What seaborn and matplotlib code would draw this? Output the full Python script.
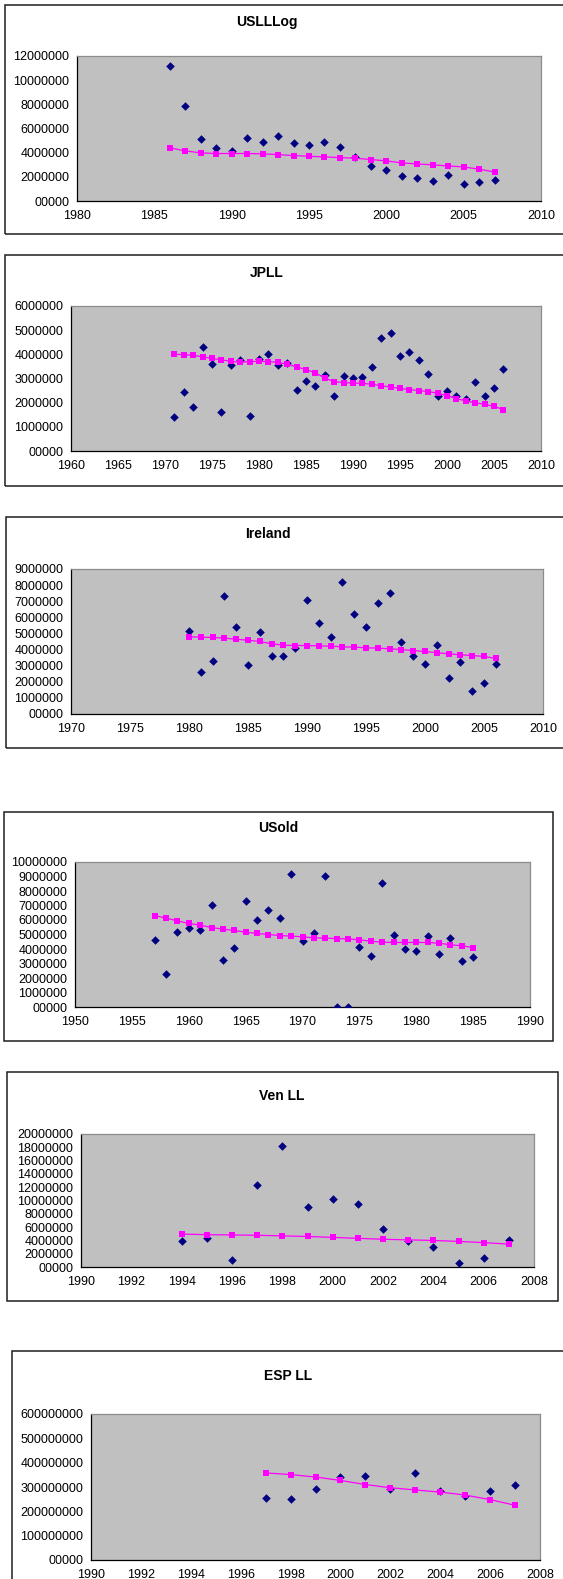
import matplotlib
matplotlib.use("Agg")
import matplotlib.pyplot as plt
from matplotlib.patches import Rectangle
from matplotlib.ticker import FuncFormatter, MultipleLocator
import seaborn as sns

sns.set_style("white")
plt.rcParams["font.family"] = ["Liberation Sans", "DejaVu Sans"]

# ---------------------------------------------------------------- data
titles = ["USLLLog", "JPLL", "Ireland", "USold", "Ven LL", "ESP LL"]

usll_years = list(range(1986, 2008))
usll_obs = [11.2e6, 7.9e6, 5.09e6, 4.4e6, 4.15e6, 5.25e6, 4.9e6, 5.34e6, 4.76e6, 4.64e6,
            4.92e6, 4.5e6, 3.66e6, 2.88e6, 2.57e6, 2.05e6, 1.88e6, 1.69e6, 2.16e6, 1.38e6,
            1.6e6, 1.74e6]
usll_fit = [4.4e6, 4.15e6, 3.98e6, 3.93e6, 3.93e6, 3.93e6, 3.9e6, 3.84e6, 3.76e6, 3.7e6,
            3.65e6, 3.59e6, 3.54e6, 3.43e6, 3.32e6, 3.15e6, 3.07e6, 2.99e6, 2.9e6, 2.82e6,
            2.63e6, 2.4e6]

jpll_years = list(range(1971, 2007))
jpll_obs = [1.42e6, 2.44e6, 1.81e6, 4.32e6, 3.61e6, 1.61e6, 3.57e6, 3.78e6, 1.46e6, 3.79e6,
            4.01e6, 3.56e6, 3.66e6, 2.51e6, 2.9e6, 2.69e6, 3.14e6, 2.28e6, 3.12e6, 3.03e6,
            3.06e6, 3.48e6, 4.69e6, 4.88e6, 3.93e6, 4.08e6, 3.75e6, 3.17e6, 2.29e6, 2.47e6,
            2.29e6, 2.14e6, 2.84e6, 2.29e6, 2.62e6, 3.38e6]
jpll_fit = [4.0e6, 3.99e6, 3.96e6, 3.9e6, 3.83e6, 3.77e6, 3.71e6, 3.67e6, 3.7e6, 3.71e6,
            3.7e6, 3.67e6, 3.59e6, 3.48e6, 3.37e6, 3.23e6, 3.02e6, 2.87e6, 2.83e6, 2.81e6,
            2.8e6, 2.76e6, 2.7e6, 2.65e6, 2.59e6, 2.54e6, 2.5e6, 2.46e6, 2.39e6, 2.29e6,
            2.17e6, 2.07e6, 2.0e6, 1.93e6, 1.85e6, 1.71e6]

ire_years = list(range(1980, 2007))
ire_obs = [5.14e6, 2.62e6, 3.28e6, 7.31e6, 5.37e6, 3.06e6, 5.1e6, 3.63e6, 3.61e6, 4.09e6,
           7.06e6, 5.62e6, 4.81e6, 8.18e6, 6.19e6, 5.39e6, 6.87e6, 7.54e6, 4.46e6, 3.59e6,
           3.12e6, 4.27e6, 2.23e6, 3.24e6, 1.42e6, 1.9e6, 3.08e6]
ire_fit = [4.79e6, 4.77e6, 4.75e6, 4.71e6, 4.64e6, 4.58e6, 4.5e6, 4.36e6, 4.27e6, 4.25e6,
           4.25e6, 4.23e6, 4.21e6, 4.17e6, 4.15e6, 4.11e6, 4.09e6, 4.05e6, 4.0e6, 3.94e6,
           3.88e6, 3.8e6, 3.74e6, 3.67e6, 3.63e6, 3.57e6, 3.45e6]

usold_years = list(range(1957, 1986))
usold_obs = [4.61e6, 2.26e6, 5.16e6, 5.46e6, 5.3e6, 7.05e6, 3.27e6, 4.08e6, 7.28e6, 5.97e6,
             6.71e6, 6.13e6, 9.19e6, 4.54e6, 5.07e6, 9.06e6, 0.02e6, 0.02e6, 4.12e6, 3.53e6,
             8.53e6, 4.98e6, 4.01e6, 3.89e6, 4.93e6, 3.66e6, 4.75e6, 3.2e6, 3.46e6]
usold_fit = [6.31e6, 6.13e6, 5.94e6, 5.76e6, 5.65e6, 5.48e6, 5.37e6, 5.28e6, 5.16e6, 5.07e6,
             5.0e6, 4.93e6, 4.89e6, 4.84e6, 4.77e6, 4.75e6, 4.72e6, 4.7e6, 4.63e6, 4.54e6,
             4.47e6, 4.45e6, 4.45e6, 4.45e6, 4.45e6, 4.4e6, 4.29e6, 4.22e6, 4.1e6]

ven_years = list(range(1994, 2008))
ven_obs = [3.85e6, 4.36e6, 1.1e6, 12.34e6, 18.17e6, 8.99e6, 10.18e6, 9.45e6, 5.69e6, 3.85e6,
           3.03e6, 0.55e6, 1.42e6, 4.13e6]
ven_fit = [4.95e6, 4.86e6, 4.82e6, 4.77e6, 4.68e6, 4.59e6, 4.45e6, 4.31e6, 4.17e6, 4.08e6,
           3.99e6, 3.85e6, 3.67e6, 3.44e6]

esp_years = list(range(1997, 2008))
esp_obs = [253e6, 251e6, 293e6, 342e6, 345e6, 292e6, 358e6, 285e6, 263e6, 282e6, 307e6]
esp_fit = [358e6, 351e6, 341e6, 327e6, 310e6, 297e6, 288e6, 279e6, 267e6, 248e6, 225e6]

x_ranges = [(1980, 2010, 5), (1960, 2010, 5), (1970, 2010, 5),
            (1950, 1990, 5), (1990, 2008, 2), (1990, 2008, 2)]
y_ranges = [(0, 12e6, 2e6), (0, 6e6, 1e6), (0, 9e6, 1e6),
            (0, 10e6, 1e6), (0, 20e6, 2e6), (0, 600e6, 100e6)]

series = [
    (usll_years, usll_obs, usll_fit),
    (jpll_years, jpll_obs, jpll_fit),
    (ire_years, ire_obs, ire_fit),
    (usold_years, usold_obs, usold_fit),
    (ven_years, ven_obs, ven_fit),
    (esp_years, esp_obs, esp_fit),
]

# ---------------------------------------------------------------- layout (pixels)
W, H = 563, 1579
# chart frame: left, top, right, bottom
frames = [(5, 5, 567, 234), (5, 255, 567, 486), (6, 517, 567, 748),
          (4, 812, 553, 1041), (7, 1072, 558, 1301), (12, 1351, 567, 1592)]
# plot area: left, top, right, bottom
plots = [(77, 56, 541, 201), (71, 306, 541, 451), (71, 569, 543, 714),
         (75, 862, 530, 1007), (81, 1134, 534, 1267), (91, 1414, 540, 1560)]
# title centres
title_xy = [(267, 22), (267, 273), (268, 534), (278, 828), (282, 1096), (288, 1376)]

fig = plt.figure(figsize=(W / 100, H / 100), dpi=100)
fig.patch.set_facecolor("white")


def label_fmt(v, pos):
    return "00000" if abs(v) < 1e-9 else f"{int(round(v))}"


for i, (yrs, obs, fit) in enumerate(series):
    fl, ft, fr, fb = frames[i]
    fig.add_artist(Rectangle((fl / W, 1 - fb / H), (fr - fl) / W, (fb - ft) / H,
                             transform=fig.transFigure, fill=False,
                             edgecolor="#1e1e1e", linewidth=1.1))
    tx, ty = title_xy[i]
    fig.text(tx / W, 1 - ty / H, titles[i],
             ha="center", va="center", fontsize=10, fontweight="bold", color="black")

    pl, pt, pr, pb = plots[i]
    ax = fig.add_axes([pl / W, 1 - pb / H, (pr - pl) / W, (pb - pt) / H])
    ax.set_facecolor("#C0C0C0")

    sns.scatterplot(x=yrs, y=obs, ax=ax, marker="D", color="#000080",
                    s=19, linewidth=0, zorder=3)
    sns.lineplot(x=yrs, y=fit, ax=ax, color="#FF00FF", linewidth=0.9,
                 marker="s", markersize=5, markeredgecolor="#FF00FF",
                 markeredgewidth=0, zorder=4)

    x0, x1, xs = x_ranges[i]
    y0, y1, ys = y_ranges[i]
    ax.set_xlim(x0, x1)
    ax.set_ylim(y0, y1)
    ax.xaxis.set_major_locator(MultipleLocator(xs))
    ax.yaxis.set_major_locator(MultipleLocator(ys))
    ax.yaxis.set_major_formatter(FuncFormatter(label_fmt))
    ax.xaxis.set_major_formatter(FuncFormatter(lambda v, p: f"{int(round(v))}"))
    ax.set_xlabel("")
    ax.set_ylabel("")

    for side in ("left", "bottom"):
        ax.spines[side].set_color("black")
        ax.spines[side].set_linewidth(0.9)
    for side in ("top", "right"):
        ax.spines[side].set_color("#8c8c8c")
        ax.spines[side].set_linewidth(0.9)
    ax.tick_params(axis="both", direction="out", length=3.5, width=0.8,
                   colors="black", labelsize=9.0, pad=2)
    ax.tick_params(axis="x", pad=3)
    ax.grid(False)

fig.savefig("out.png", dpi=100, facecolor="white")
